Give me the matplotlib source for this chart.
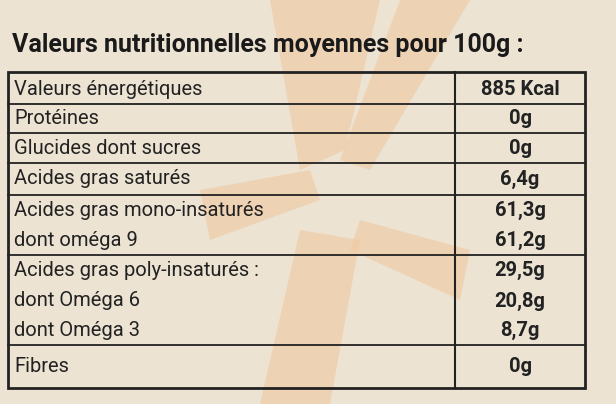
import matplotlib
matplotlib.use("Agg")
import matplotlib.pyplot as plt
from matplotlib.patches import Polygon, Rectangle

title = "Valeurs nutritionnelles moyennes pour 100g :"
labels = ["Valeurs énergétiques", "Protéines", "Glucides dont sucres", "Acides gras saturés",
          "Acides gras mono-insaturés", "dont oméga 9", "Acides gras poly-insaturés :",
          "dont Oméga 6", "dont Oméga 3", "Fibres"]
values = ["885 Kcal", "0g", "0g", "6,4g", "61,3g", "61,2g", "29,5g", "20,8g", "8,7g", "0g"]
row_top = [75, 104, 133, 163, 195, 225, 255, 286, 316, 345]
row_bottom = 388
separators = [True, True, True, True, True, False, True, False, False, True]

fam = ["Liberation Sans Narrow", "Roboto", "DejaVu Sans"]

fig = plt.figure(figsize=(6.16, 4.04), dpi=100)
ax = fig.add_axes([0, 0, 1, 1])
ax.set_xlim(0, 616); ax.set_ylim(404, 0); ax.axis("off")
fig.patch.set_facecolor("#ece3d3")

orange = "#efc9a0"
for pts in [[(270, 0), (380, 0), (345, 150), (300, 170)],
            [(400, 0), (470, 0), (370, 170), (340, 160)],
            [(200, 190), (310, 170), (320, 200), (210, 240)],
            [(360, 220), (470, 250), (460, 300), (350, 250)],
            [(300, 230), (360, 240), (330, 404), (260, 404)]]:
    ax.add_patch(Polygon(pts, closed=True, color=orange, alpha=0.6, lw=0))

ax.text(12, 45, title, fontsize=18, fontweight="bold", color="#1a1a1a", va="center", family=fam)

ax.add_patch(Rectangle((8, 72), 577, row_bottom - 72, fill=False, lw=2, ec="#222"))
ax.plot([455, 455], [72, row_bottom], color="#222", lw=1.5)
for i, (lab, val) in enumerate(zip(labels, values)):
    top = row_top[i]
    bot = row_top[i + 1] if i + 1 < len(row_top) else row_bottom
    if separators[i] and i > 0:
        ax.plot([8, 585], [top, top], color="#222", lw=1.3)
    cy = (top + bot) / 2
    ax.text(14, cy, lab, fontsize=14.5, color="#222", va="center", family=fam)
    ax.text(520, cy, val, fontsize=14.5, color="#222", va="center", ha="center",
            fontweight="bold", family=fam)

fig.savefig("out.png", dpi=100, facecolor=fig.get_facecolor())
